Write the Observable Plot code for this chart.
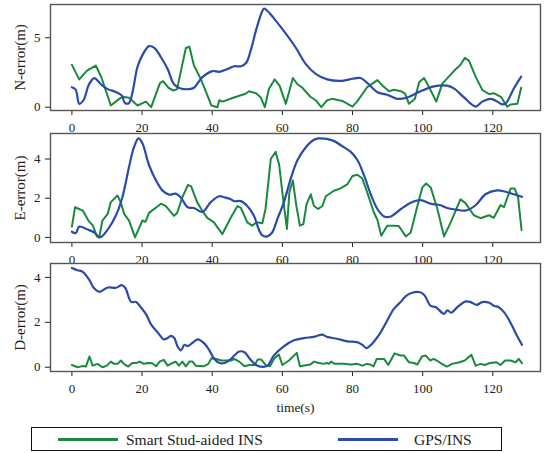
<!DOCTYPE html>
<html>
<head>
<meta charset="utf-8">
<script src="https://cdn.jsdelivr.net/npm/d3@7"></script>
<script src="https://cdn.jsdelivr.net/npm/@observablehq/plot@0.6"></script>
<style>
  html, body { margin: 0; padding: 0; background: white; }
  #root { position: relative; width: 547px; height: 453px; overflow: hidden; font-family: "Liberation Serif", "DejaVu Serif", "Times New Roman", Times, serif; }
  .panel { position: absolute; left: 0; }
  .panel text { font-family: "Liberation Serif", "DejaVu Serif", "Times New Roman", Times, serif; }
  #legend { position: absolute; left: 31px; top: 427px; width: 469px; height: 22px; border: 1.3px solid #111; }
  .lg-line { position: absolute; top: 10px; height: 3px; width: 60px; }
  .lg-text { position: absolute; top: 0; line-height: 23px; font-size: 15.5px; color: #222; white-space: nowrap; }
</style>
</head>
<body>
<div id="root"></div>
<script>
// ---- data ----
const xTicks = [0, 20, 40, 60, 80, 100, 120];
const seriesNames = ["Smart Stud-aided INS", "GPS/INS"];

// N-error, Smart Stud-aided INS
const nSmartT = [0,2.1,4.3,6.8,8.4,11.1,13.5,14.4,16.3,18.7,21.1,22.6,25.1,26,27.5,29,30,31.5,32.5,33.5,34.8,36.8,39.8,41.5,42,43,46.2,49.5,50.5,52.5,53.8,55,56.2,57.8,59.2,61,63,64.3,65.7,68,69.5,71.1,72.8,74.2,77.1,80,81.3,84.2,87.1,88.6,90.4,91.8,93.8,95,96.1,97.8,99,100.4,101.8,103.9,105.6,108.9,110.8,112,113.2,115.1,117,118.9,120.4,122.3,124.1,125.1,127,128.1];
const nSmartV = [3.05,2.0,2.64,3.0,2.16,0.12,0.6,0.75,0.68,0.12,0.4,0.0,1.73,1.87,1.4,1.2,1.3,3.1,4.27,4.35,3.0,2.0,0.12,0.0,0.5,0.4,0.7,0.97,1.15,1.0,0.72,0.0,1.33,2.0,1.55,0.24,2.1,1.65,1.4,0.75,0.5,0.0,0.5,0.6,0.45,0.04,0.4,1.45,1.95,1.55,1.15,1.25,1.15,0.97,0.24,0.6,1.8,2.1,1.45,0.4,1.7,2.6,3.05,3.55,3.35,2.2,1.25,0.95,1.0,0.75,0.04,0.2,0.25,1.4];
// N-error, GPS/INS
const nGpsT = [0,1.1,2.1,3.3,4.9,6.4,8.3,10.2,12.5,14.2,15.1,16.3,17.3,18.7,20.1,22,23.5,25.4,27.3,29.1,31,33.4,34.8,37.2,40.1,42,44.4,46.3,48.2,49.7,51,52.9,54.8,55.7,57.6,61,63.8,66.7,69.5,72.8,77.1,80,82.3,84.2,87.1,89.9,92.8,95.6,99.4,103.2,107,108.9,111.8,115.1,117,119.4,121.3,122.7,123.7,126,128.1];
const nGpsV = [1.44,1.25,0.24,0.5,1.65,2.1,1.65,1.3,1.1,0.85,0.3,0.3,1.1,2.9,3.75,4.4,4.27,3.6,2.75,1.65,1.35,1.3,1.4,2.16,2.6,2.55,2.75,2.95,2.95,3.2,4.1,5.9,7.1,6.95,6.4,5.3,4.3,3.1,2.4,2.0,1.9,2.05,2.1,1.75,1.08,0.9,0.6,0.7,1.15,1.5,1.55,1.35,0.7,0.04,0.4,0.6,0.4,0.2,0.27,1.35,2.2];

// E-error, Smart Stud-aided INS
const eSmartT = [0,0.9,3.1,4.7,6,7.1,7.8,8.7,10.2,11.1,13,13.9,14.9,16.3,18,19.2,20.1,21,22,25.4,26.8,29.1,30,31.5,33.1,34,35.7,37.2,38.6,40.5,42.9,45.3,47.2,48.2,50,51.4,52.7,54.3,55.2,56.7,58.1,59.1,60,61.3,62,63,64,65,66,66.9,68.1,69,70.2,71.4,72.4,74.7,76.6,78.5,80,81.4,82.8,84.2,86.1,87.1,88.2,89.9,91.8,93.2,95.2,96.6,98.5,99.9,101,102.3,104.2,106.1,108,110.8,112.2,114.6,116.5,118.9,120.3,122.2,123.2,125.1,126.2,127.2,128.2];
const eSmartV = [0.55,1.54,1.37,0.86,0.6,0.05,0.0,0.86,1.2,1.8,2.14,1.8,1.2,0.86,0.0,0.5,0.86,0.8,1.25,1.72,1.6,1.1,1.25,2.05,2.68,2.6,1.8,1.35,1.0,0.77,0.17,1.0,1.6,1.5,0.77,0.6,0.77,0.72,1.45,4.0,4.36,3.7,2.3,0.43,2.3,2.9,1.6,0.6,0.68,1.7,2.2,1.6,1.45,1.6,2.1,2.38,2.5,2.7,3.13,3.2,3.0,2.3,1.27,0.9,0.08,0.6,0.6,0.58,0.05,0.25,1.6,2.55,2.75,2.55,1.45,0.05,0.77,1.95,1.75,1.13,0.98,1.13,1.0,1.65,1.55,2.5,2.5,2.05,0.38];
// E-error, GPS/INS
const eGpsT = [0,1.1,2.1,4.5,6.4,8,10.2,12.5,14.4,16.3,17.7,19,20.1,22,24,25.8,27.7,29.6,31,33,34.8,37.2,39.6,42,43.4,45.3,46.2,48.2,50,51.9,53.3,54.3,55.7,57.1,58.6,60.5,62.4,64.3,66.7,69,70.4,74.3,77.1,79.5,81.4,83.3,85.2,87.1,89,90.9,93.8,96.6,99.4,102.2,105.1,107,109.4,112.2,115.1,117.9,121.2,123.6,126,128.3];
const eGpsV = [0.29,0.22,0.55,0.4,0.25,0.0,0.4,1.1,2.05,3.6,4.6,5.05,4.8,3.68,2.9,2.4,2.18,2.23,2.05,1.54,1.5,1.3,1.8,2.1,2.05,1.95,1.85,1.85,1.6,1.1,0.4,0.1,0.05,0.25,0.95,1.83,3.0,3.93,4.6,4.98,5.05,4.95,4.65,4.36,3.95,3.16,2.2,1.45,1.07,1.07,1.45,1.77,1.9,1.72,1.64,1.5,1.42,1.37,1.64,2.2,2.4,2.33,2.2,2.07];

// D-error, Smart Stud-aided INS
const dSmartT = [0,1.6,3,4,5,5.9,7.3,8.7,10,11.1,12,13,14,14.8,16.1,17.2,18.5,19.3,20.5,21.5,22.9,24,25,26.2,27.3,28.7,29.6,30.5,31.5,32.5,33.5,34.4,35.3,37.5,38.9,39.8,41.2,42.6,43.5,45.4,46.3,47.7,49.2,50.6,52.1,53,54,55.4,56.5,57.6,59,60,61.9,64.1,65,68,69,70.4,71.8,72.6,73.3,73.9,74.9,77.6,79.5,81.4,82.8,84.1,85.1,86,86.9,89,90.2,92,93.7,94.7,96.1,97.5,98.5,99.8,100.9,102.2,103.1,104,105.5,106.9,108.4,110.5,112,113.9,115.1,116.6,117.7,119.2,121.1,122.2,123.5,125,126.5,127.4,128.3];
const dSmartV = [0.1,0.0,0.05,0.03,0.48,0.07,0.15,0.0,0.07,0.25,0.15,0.15,0.3,0.15,0.03,0.19,0.19,0.25,0.15,0.19,0.18,0.04,0.25,0.33,0.07,0.19,0.25,0.07,0.25,0.04,0.25,0.25,0.07,0.04,0.15,0.4,0.37,0.3,0.3,0.3,0.37,0.25,0.04,0.1,0.1,0.34,0.34,0.07,0.05,0.37,0.57,0.1,0.3,0.64,0.04,0.12,0.25,0.19,0.15,0.19,0.15,0.25,0.15,0.15,0.12,0.15,0.07,0.15,0.12,0.04,0.37,0.37,0.1,0.62,0.52,0.52,0.22,0.19,0.12,0.48,0.52,0.3,0.37,0.3,0.15,0.03,0.15,0.22,0.3,0.55,0.07,0.15,0.1,0.19,0.22,0.1,0.3,0.3,0.22,0.37,0.18];
// D-error, GPS/INS
const dGpsT = [0,1.6,3.1,5,6.2,7.9,10.2,12.6,14.2,15.2,16.9,18.3,19.8,21.2,22.6,24.5,26.2,27.3,28.3,29.2,30.2,31.1,32.1,33,34.5,35.9,37.8,39.2,40.6,42.1,43.5,45.4,46.3,47.7,49.2,50.6,52.5,54.4,55.8,57.6,60.5,63.3,66.2,69,71.4,72.8,75.6,78.5,81.3,82.8,84,85.6,87.6,89.9,91.8,93.7,95.2,97,99,100.4,102.3,103.7,106.1,107,108.2,109.9,112.3,113.7,115.4,117,119,120.4,121.6,123.3,125.2,126.6,128.3];
const dGpsV = [4.42,4.32,4.25,3.88,3.54,3.36,3.55,3.54,3.66,3.54,2.91,2.91,2.64,2.34,1.9,1.54,1.24,1.3,1.4,1.3,0.9,0.75,1.0,0.94,1.1,1.24,1.05,0.75,0.37,0.19,0.19,0.37,0.52,0.7,0.67,0.4,0.1,0.02,0.07,0.52,0.94,1.2,1.3,1.35,1.45,1.35,1.27,1.15,1.12,1.0,0.85,1.05,1.45,2.08,2.6,2.9,3.17,3.32,3.35,3.23,2.73,2.68,2.38,2.53,2.43,2.68,2.93,2.9,2.78,2.9,2.87,2.73,2.68,2.43,1.94,1.49,1.0];

// ---- drawing ----
const GREEN = "#198a3d";
const BLUE = "#2a4ca8";
const FONT = '"Liberation Serif", "DejaVu Serif", "Times New Roman", Times, serif';
const toRows = (t, v) => t.map((ti, i) => ({t: ti, v: v[i]}));

const panels = [
  {top: 0, height: 133, mt: 4, mb: 23, ydom: [-0.24, 7.4], yticks: [0, 5], label: "N-error(m)", s: toRows(nSmartT, nSmartV), g: toRows(nGpsT, nGpsV)},
  {top: 129, height: 135, mt: 4, mb: 22, ydom: [-0.26, 5.3], yticks: [0, 2, 4], label: "E-error(m)", s: toRows(eSmartT, eSmartV), g: toRows(eGpsT, eGpsV)},
  {top: 259, height: 160, mt: 4, mb: 48, ydom: [-0.19, 4.62], yticks: [0, 2, 4], label: "D-error(m)", s: toRows(dSmartT, dSmartV), g: toRows(dGpsT, dGpsV), xlabel: "time(s)"}
];

const root = document.getElementById("root");
for (const p of panels) {
  const marks = [
    Plot.axisX({ticks: xTicks, tickSize: 5, tickPadding: 7, label: null, fontSize: 13, tickFormat: d => String(d)}),
    Plot.axisY({ticks: p.yticks, tickSize: 5, tickPadding: 5, label: null, fontSize: 13, tickFormat: d => String(d)}),
    Plot.line(p.s, {x: "t", y: "v", stroke: GREEN, strokeWidth: 2}),
    Plot.line(p.g, {x: "t", y: "v", stroke: BLUE, strokeWidth: 2.2, curve: "catmull-rom"}),
    Plot.frame({stroke: "#555", strokeWidth: 1.4}),
    Plot.text([p.label], {frameAnchor: "left", dx: -30, rotate: -90, textAnchor: "middle", lineAnchor: "middle", fontSize: 15, fill: "#222"})
  ];
  if (p.xlabel) marks.push(Plot.text([p.xlabel], {frameAnchor: "bottom", dy: 36, textAnchor: "middle", lineAnchor: "middle", fontSize: 13.5, fill: "#222"}));
  const chart = Plot.plot({
    width: 547, height: p.height,
    marginTop: p.mt, marginBottom: p.mb, marginLeft: 50, marginRight: 7,
    style: {fontFamily: FONT, fontSize: "13px", color: "#222", background: "transparent", overflow: "visible"},
    x: {domain: [-6.1, 133.6]},
    y: {domain: p.ydom},
    marks
  });
  chart.classList.add("panel");
  chart.style.top = p.top + "px";
  root.appendChild(chart);
}

// legend
const legend = document.createElement("div");
legend.id = "legend";
const items = [
  {name: seriesNames[0], color: GREEN, lineLeft: 26, textLeft: 94},
  {name: seriesNames[1], color: BLUE, lineLeft: 306, textLeft: 382}
];
for (const it of items) {
  const ln = document.createElement("div");
  ln.className = "lg-line";
  ln.style.left = it.lineLeft + "px";
  ln.style.background = it.color;
  legend.appendChild(ln);
  const tx = document.createElement("div");
  tx.className = "lg-text";
  tx.style.left = it.textLeft + "px";
  tx.textContent = it.name;
  legend.appendChild(tx);
}
root.appendChild(legend);
</script>
</body>
</html>
